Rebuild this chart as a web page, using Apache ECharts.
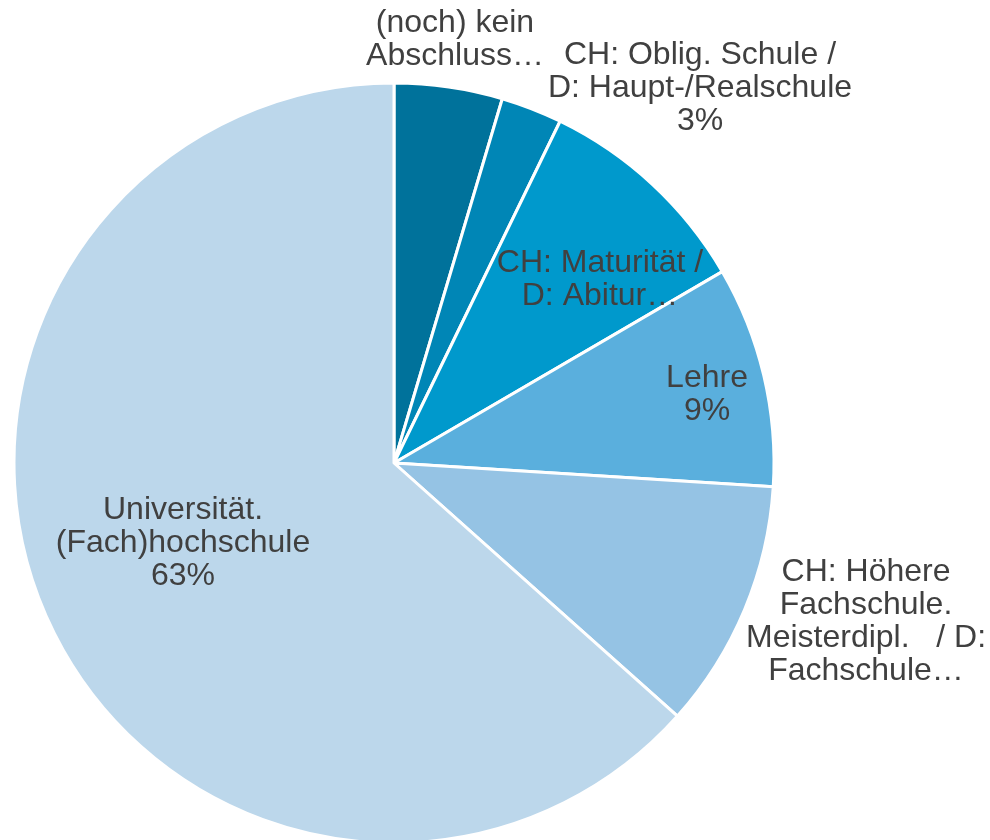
<!DOCTYPE html>
<html>
<head>
<meta charset="utf-8">
<script src="https://cdn.jsdelivr.net/npm/echarts@6/dist/echarts.min.js"></script>
<style>
  html, body { margin: 0; padding: 0; background: #fff; }
  #main { width: 990px; height: 840px; }
</style>
</head>
<body>
<div id="main"></div>
<script>
// Abschluss-Kategorien (Reihenfolge im Uhrzeigersinn ab 12 Uhr)
const categories = [
    '(noch) kein\nAbschluss…',
    'CH: Oblig. Schule /\nD: Haupt-/Realschule',
    'CH: Maturität /\nD: Abitur…',
    'Lehre',
    'CH: Höhere\nFachschule.\nMeisterdipl.   / D:\nFachschule…',
    'Universität.\n(Fach)hochschule'
];
// Anteile in Prozent
const shares = [4.6, 2.6, 9.4, 9.4, 10.6, 63.4];

const colors = ['#00729b', '#0086b6', '#0099cc', '#5aafdd', '#95c3e4', '#bcd7eb'];
// wo die Beschriftungen sitzen (Pixel)
const labelSpots = [[455, 40], [700, 88], [600, 280], [707, 395], [866, 622], [183, 543]];

const myChart = echarts.init(document.getElementById('main'));

myChart.setOption({
    animation: false,
    color: colors,
    series: [
        {
            type: 'pie',
            center: [394, 463],
            radius: 380,
            startAngle: 90,
            clockwise: true,
            itemStyle: {
                borderColor: '#ffffff',
                borderWidth: 3
            },
            label: {
                show: true,
                position: 'inside',
                color: '#404040',
                fontFamily: 'Liberation Sans',
                fontSize: 32,
                lineHeight: 33,
                textBorderWidth: 0,
                align: 'center',
                formatter: function (p) {
                    // abgeschnittene Namen zeigen keinen Prozentwert
                    if (p.name.slice(-1) === '…') return p.name;
                    return p.name + '\n' + Math.round(p.value) + '%';
                }
            },
            labelLine: { show: false },
            labelLayout: function (p) {
                const s = labelSpots[p.dataIndex];
                return { x: s[0], y: s[1], align: 'center', verticalAlign: 'middle' };
            },
            emphasis: { disabled: true },
            data: categories.map(function (c, i) {
                return { name: c, value: shares[i] };
            })
        }
    ]
});
</script>
</body>
</html>
